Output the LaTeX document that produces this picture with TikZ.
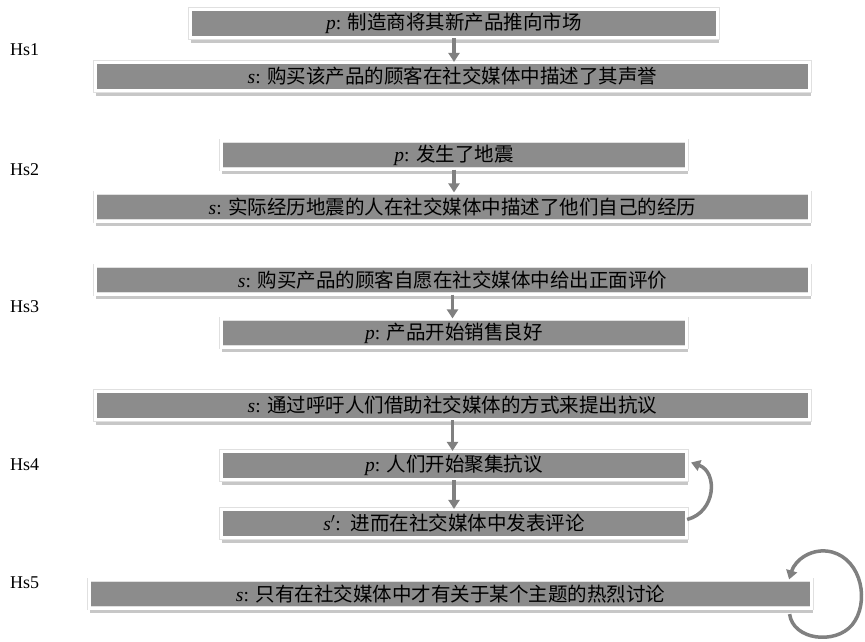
\documentclass[tikz,border=0pt]{standalone}
\usepackage{fontspec}
\setmainfont{Liberation Serif}
\newfontfamily\cjk{Noto Sans CJK SC}
\usetikzlibrary{arrows.meta,shadows,calc}
\definecolor{boxgray}{RGB}{140,140,140}
\definecolor{arrgray}{RGB}{128,128,128}
\begin{document}
\begin{tikzpicture}[x=1pt,y=-1pt,
  box/.style={rectangle, fill=boxgray, draw=black!12, line width=0.5pt,
    double=white, double distance=3.2pt,
    minimum height=28.7pt, inner sep=0pt, text=black,
    font=\fontsize{19.5}{21}\selectfont,
    drop shadow={shadow xshift=1pt, shadow yshift=-5pt, opacity=0.22, fill=black}},
  wide/.style={box, minimum width=714.7pt},
  mid/.style={box, minimum width=465.7pt},
  lab/.style={anchor=west, inner sep=0pt, font=\fontsize{18}{20}\selectfont},
  arr/.style={draw=arrgray, line width=3.5pt, -{Triangle[width=11pt,length=9pt]}}]
\useasboundingbox (0,0) rectangle (865,642);
\fill[white] (0,0) rectangle (865,642);

% Hs1
\node[lab] (l1) at (10,50) {Hs1};
\node[box, minimum width=527.7pt] (h1p) at (454,23.5) {\textit{p}: {\cjk 制造商将其新产品推向市场}};
\node[wide] (h1s) at (452.5,76.5) {\textit{s}: {\cjk 购买该产品的顾客在社交媒体中描述了其声誉}};
% Hs2
\node[lab] (l2) at (10,170) {Hs2};
\node[mid] (h2p) at (454,155) {\textit{p}: {\cjk 发生了地震}};
\node[wide] (h2s) at (452.5,207) {\textit{s}: {\cjk 实际经历地震的人在社交媒体中描述了他们自己的经历}};
% Hs3
\node[lab] (l3) at (10,307) {Hs3};
\node[wide] (h3s) at (452.5,280) {\textit{s}: {\cjk 购买产品的顾客自愿在社交媒体中给出正面评价}};
\node[mid] (h3p) at (454,333) {\textit{p}: {\cjk 产品开始销售良好}};
% Hs4
\node[lab] (l4) at (10,465) {Hs4};
\node[wide] (h4s) at (452.5,405.5) {\textit{s}: {\cjk 通过呼吁人们借助社交媒体的方式来提出抗议}};
\node[mid] (h4p) at (454,465.5) {\textit{p}: {\cjk 人们开始聚集抗议}};
\node[mid] (h4q) at (454,523.5) {\textit{s}$'$:\enspace{\cjk 进而在社交媒体中发表评论}};
% Hs5
\node[lab] (l5) at (10,583) {Hs5};
\node[box, minimum width=722.7pt] (h5) at (450.5,594) {\textit{s}: {\cjk 只有在社交媒体中才有关于某个主题的热烈讨论}};

% arrows
\draw[arr] (h1p.south) -- (h1p.south |- h1s.north);
\draw[arr] (h2p.south) -- (h2p.south |- h2s.north);
\draw[arr] (h3s.south) -- (h3s.south |- h3p.north);
\draw[arr] (h4s.south) -- (h4s.south |- h4p.north);
\draw[arr] (h4p.south) -- (h4q.north);
\draw[arr] ($(h4q.east)+(0,-4)$) .. controls (716,512) and (718,472) .. ($(h4p.east)+(4,-3)$);
\draw[arr] ($(h5.south east)+(-22.5,5.5)$) .. controls (793,640) and (835,645) .. (852,625)
  .. controls (870,603) and (862,560) .. (832,552)
  .. controls (812,547) and (795,560) .. ($(h5.north east)+(-23,0)$);
\end{tikzpicture}
\end{document}
